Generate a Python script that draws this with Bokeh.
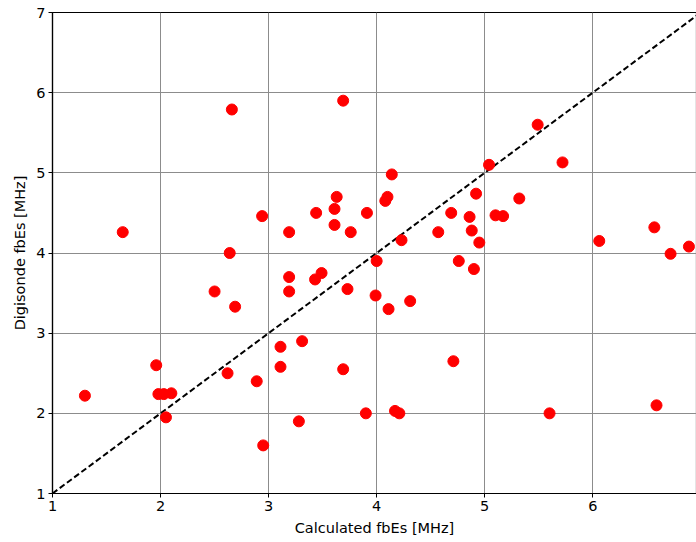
from bokeh.embed import file_html
from bokeh.models import FixedTicker
from bokeh.plotting import figure
from bokeh.resources import INLINE

# calculated fbEs vs digisonde fbEs
calc_fbes = [1.30, 1.65, 1.96, 1.98, 2.03, 2.10, 2.05, 2.50, 2.62, 2.64,
             2.66, 2.69, 2.89, 2.94, 2.95, 3.11, 3.11, 3.19, 3.19, 3.19,
             3.28, 3.31, 3.43, 3.44, 3.49, 3.61, 3.61, 3.63, 3.69, 3.69,
             3.73, 3.76, 3.91, 3.90, 3.99, 4.00, 4.08, 4.10, 4.11, 4.14,
             4.17, 4.21, 4.23, 4.31, 4.57, 4.69, 4.71, 4.76, 4.86, 4.88,
             4.90, 4.92, 4.95, 5.04, 5.10, 5.17, 5.32, 5.49, 5.72, 5.60,
             6.06, 6.57, 6.59, 6.72, 6.89]
digi_fbes = [2.22, 4.26, 2.60, 2.24, 2.24, 2.25, 1.95, 3.52, 2.50, 4.00,
             5.79, 3.33, 2.40, 4.46, 1.60, 2.83, 2.58, 4.26, 3.52, 3.70,
             1.90, 2.90, 3.67, 4.50, 3.75, 4.55, 4.35, 4.70, 2.55, 5.90,
             3.55, 4.26, 4.50, 2.00, 3.47, 3.90, 4.65, 4.70, 3.30, 4.98,
             2.03, 2.00, 4.16, 3.40, 4.26, 4.50, 2.65, 3.90, 4.45, 4.28,
             3.80, 4.74, 4.13, 5.10, 4.47, 4.46, 4.68, 5.60, 5.13, 2.00,
             4.15, 4.32, 2.10, 3.99, 4.08]
# 1:1 reference line
ref_line = [1, 7]
ticks = [1, 2, 3, 4, 5, 6, 7]

p = figure(width=697, height=542, output_backend="svg", toolbar_location=None,
           x_range=(1, 6.96), y_range=(1, 7),
           x_axis_label="Calculated fbEs [MHz]", y_axis_label="Digisonde fbEs [MHz]",
           min_border_left=52, min_border_right=1, min_border_top=12, min_border_bottom=49)

p.line(ref_line, ref_line, line_color="black", line_width=2, line_dash="6 3")
p.scatter(calc_fbes, digi_fbes, size=11, color="red", line_color="red")

p.xaxis.ticker = FixedTicker(ticks=ticks[:-1])
p.yaxis.ticker = FixedTicker(ticks=ticks)
for ax in (p.xaxis, p.yaxis):
    ax.major_label_text_font = "DejaVu Sans"
    ax.major_label_text_font_size = "14.5px"
    ax.major_label_text_color = "black"
    ax.axis_label_text_font = "DejaVu Sans"
    ax.axis_label_text_font_size = "14.5px"
    ax.axis_label_text_font_style = "normal"
    ax.axis_label_text_color = "black"
    ax.axis_line_color = "black"
    ax.axis_line_width = 1.2
    ax.major_tick_line_color = "black"
    ax.major_tick_out = 4
    ax.major_tick_in = 0
    ax.minor_tick_line_color = None
    ax.major_label_standoff = 3
p.xaxis.axis_label_standoff = 6
p.yaxis.axis_label_standoff = 5

p.grid.grid_line_color = "#8c8c8c"
p.grid.grid_line_width = 1
p.outline_line_color = "black"
p.outline_line_width = 1.2
p.background_fill_color = "white"
p.border_fill_color = "white"

open("out.html", "w").write(file_html(p, INLINE))
